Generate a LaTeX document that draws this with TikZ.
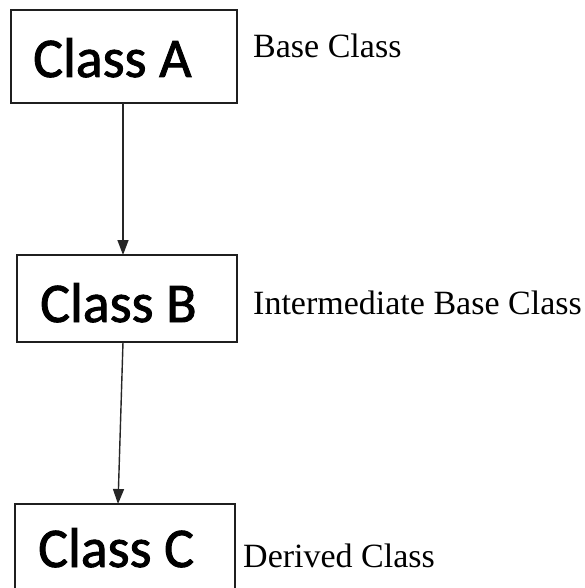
\documentclass[tikz,border=0pt]{standalone}
\usepackage{fontspec}
\setmainfont{Liberation Serif}
\newfontfamily\boxfont{Carlito}[FakeBold=1.6]
\usetikzlibrary{arrows.meta}
\begin{document}
\begin{tikzpicture}[x=1pt,y=-1pt,
  classbox/.style={draw=black!88,line width=1.8pt,inner sep=0pt},
  classname/.style={font=\boxfont\fontsize{56}{60}\selectfont,inner sep=0pt,anchor=base west},
  rolelabel/.style={font=\fontsize{34}{36}\selectfont,inner sep=0pt,anchor=base west},
  inherit/.style={draw=black!85,line width=1.4pt,-{Triangle[length=15pt,width=11pt]}}]
\useasboundingbox (0,0) rectangle (585,588);
\clip (0,0) rectangle (585,588);
\fill[white] (0,0) rectangle (585,588);
% class boxes
\node[classbox,minimum width=226pt,minimum height=93pt] (boxA) at (124,56.5) {};
\node[classbox,minimum width=220pt,minimum height=87pt] (boxB) at (127,298.5) {};
\node[classbox,minimum width=220pt,minimum height=110pt] (boxC) at (125,559) {};
% class names
\node[classname] (nameA) at (33,77) {Class A};
\node[classname] (nameB) at (40,322) {Class B};
\node[classname] (nameC) at (38,567) {Class C};
% roles
\node[rolelabel] (roleA) at (253,58) {Base Class};
\node[rolelabel] (roleB) at (253,314) {Intermediate Base Class};
\node[rolelabel] (roleC) at (243,567) {Derived Class};
% inheritance arrows
\coordinate (aOut) at (123,103);
\coordinate (bIn) at (123,255);
\coordinate (bOut) at (123,342);
\coordinate (cIn) at (118,504);
\draw[inherit] (aOut) -- (bIn);
\draw[inherit] (bOut) -- (cIn);
\end{tikzpicture}
\end{document}
